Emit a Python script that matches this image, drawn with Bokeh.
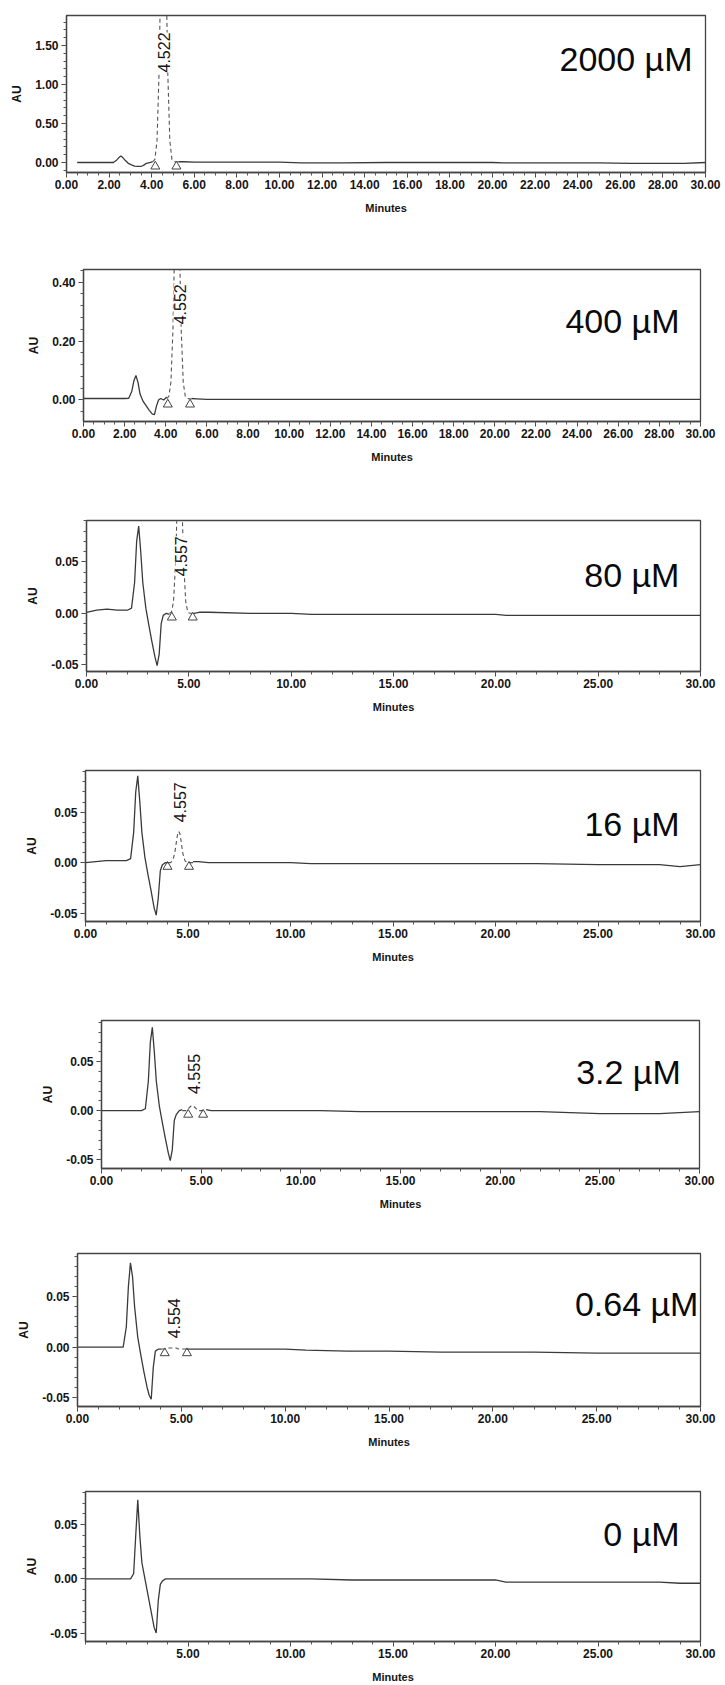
import math
from bokeh.plotting import figure
from bokeh.models import Range1d, FixedTicker, PrintfTickFormatter, Label, ColumnDataSource
from bokeh.embed import file_html
from bokeh.resources import INLINE

NaN = float("nan")

# ---------------- data ----------------
concentrations = ["2000 µM", "400 µM", "80 µM", "16 µM", "3.2 µM", "0.64 µM", "0 µM"]
retention_labels = ["4.522", "4.552", "4.557", "4.557", "4.555", "4.554", None]

minutes = [0.0, 0.5, 1.0, 1.5, 2.0, 2.2, 2.35, 2.45, 2.55, 2.65, 2.75, 2.9, 3.05, 3.2,
           3.35, 3.45, 3.55, 3.65, 3.75, 3.9, 4.05, 4.6, 5.25, 5.5, 6.0, 8.0, 10.0, 11.0,
           13.0, 15.0, 17.5, 20.0, 20.5, 22.0, 25.0, 26.5, 28.0, 29.0, 30.0]

au_2000 = [NaN, 0.0, 0.0, 0.0, 0.0, 0.0, 0.03, 0.06, 0.085, 0.06, 0.03, -0.01, -0.03, -0.045,
           -0.05, -0.05, -0.045, -0.03, -0.01, 0.0, 0.01, NaN, 0.01, 0.01, 0.005, 0.005, 0.005, -0.005,
           -0.005, 0.0, 0.0, 0.0, -0.005, -0.005, -0.005, -0.01, -0.01, -0.01, 0.0]
au_400 = [0.005, 0.005, 0.005, 0.005, 0.005, 0.006, 0.03, 0.065, 0.083, 0.06, 0.02, -0.005, -0.02, -0.035,
          -0.048, -0.05, -0.02, 0.0, 0.005, 0.0, 0.01, NaN, 0.005, 0.004, 0.002, 0.002, 0.002, 0.002,
          0.002, 0.002, 0.002, 0.002, 0.002, 0.002, 0.002, 0.002, 0.002, 0.002, 0.002]
au_80 = [0.001, 0.003, 0.004, 0.003, 0.003, 0.005, 0.03, 0.07, 0.085, 0.06, 0.03, 0.005, -0.012, -0.028,
         -0.043, -0.051, -0.04, -0.01, -0.002, 0.0, -0.001, NaN, 0.0, 0.001, 0.001, 0.0, 0.0, -0.001,
         -0.001, -0.001, -0.001, -0.001, -0.002, -0.002, -0.002, -0.002, -0.002, -0.002, -0.002]
au_16 = [0.0, 0.001, 0.002, 0.002, 0.002, 0.004, 0.03, 0.07, 0.086, 0.06, 0.03, 0.005, -0.012, -0.028,
         -0.045, -0.052, -0.035, -0.008, -0.002, 0.0, 0.0, NaN, 0.001, 0.001, 0.0, 0.0, 0.0, -0.001,
         -0.001, -0.001, -0.001, -0.001, -0.001, -0.001, -0.002, -0.002, -0.002, -0.004, -0.002]
au_3_2 = [0.0, 0.0, 0.0, 0.0, 0.0, 0.002, 0.03, 0.07, 0.085, 0.06, 0.03, 0.005, -0.012, -0.028,
          -0.043, -0.051, -0.04, -0.01, -0.004, 0.0, 0.001, NaN, 0.001, 0.0, 0.0, 0.0, 0.0, 0.0,
          -0.001, -0.001, -0.001, -0.001, -0.001, -0.001, -0.003, -0.003, -0.003, -0.002, -0.001]
au_0_64 = [0.0, 0.0, 0.0, 0.0, 0.0, 0.0, 0.02, 0.06, 0.084, 0.07, 0.04, 0.01, -0.008, -0.025,
           -0.04, -0.048, -0.052, -0.02, -0.004, -0.002, -0.002, NaN, -0.002, -0.002, -0.002, -0.002, -0.002, -0.003,
           -0.004, -0.004, -0.005, -0.005, -0.005, -0.005, -0.006, -0.006, -0.006, -0.006, -0.006]
au_0 = [0.0, 0.0, 0.0, 0.0, 0.0, 0.0, 0.005, 0.04, 0.073, 0.04, 0.015, 0.0, -0.015, -0.03,
        -0.045, -0.05, -0.02, -0.005, -0.002, 0.0, 0.0, 0.0, 0.0, 0.0, 0.0, 0.0, 0.0, 0.0,
        -0.001, -0.001, -0.001, -0.001, -0.003, -0.003, -0.003, -0.003, -0.003, -0.004, -0.004]

peak_minutes = [4.05, 4.15, 4.25, 4.35, 4.45, 4.5, 4.55, 4.6, 4.65, 4.75, 4.85, 4.95, 5.05, 5.25]
peak_2000 = [0.01, 0.04, 0.28, 1.2, 2.9, 3.6, 3.9, 3.6, 2.9, 1.2, 0.28, 0.04, 0.01, 0.01]
peak_400 = [0.005, 0.012, 0.06, 0.24, 0.585, 0.73, 0.785, 0.73, 0.585, 0.24, 0.06, 0.012, 0.005, 0.003]
peak_80 = [0.0, 0.001, 0.011, 0.048, 0.116, 0.145, 0.156, 0.145, 0.116, 0.048, 0.011, 0.001, 0.0, 0.0]
peak_16 = [0.0, 0.0, 0.002, 0.009, 0.023, 0.029, 0.031, 0.029, 0.023, 0.009, 0.002, 0.0, 0.0, 0.0]
peak_3_2 = [0.0, 0.0, 0.0, 0.002, 0.004, 0.005, 0.005, 0.005, 0.004, 0.002, 0.0, 0.0, 0.0, 0.0]
peak_0_64 = [-0.002, -0.002, -0.002, -0.001, -0.001, -0.001, -0.001, -0.001, -0.001, -0.001, -0.002, -0.002, -0.002, -0.002]

# peak start / end markers (minutes, AU)
marks_x = [[4.17, 5.16], [4.1, 5.18], [4.17, 5.19], [4.0, 5.05], [4.35, 5.1], [4.2, 5.27], []]
marks_y = [[-0.05, -0.05], [-0.015, -0.015], [-0.004, -0.004], [-0.004, -0.004],
           [-0.004, -0.004], [-0.006, -0.006], []]

# retention-time label anchor (minutes, AU at text start)
rt_x = [4.58, 4.67, 4.64, 4.59, 4.64, 4.67, None]
rt_y = [1.154, 0.257, 0.036, 0.040, 0.017, 0.0087, None]

# concentration label anchor (right edge, baseline)
conc_x = [29.39, 28.98, 28.97, 28.98, 29.06, 29.9, 28.98]
conc_y = [1.333, 0.267, 0.0375, 0.038, 0.039, 0.043, 0.041]

# axis ranges / ticks
y_lo = [-0.128, -0.073, -0.0567, -0.0583, -0.059, -0.0592, -0.0578]
y_hi = [1.885, 0.443, 0.0904, 0.0913, 0.092, 0.0932, 0.0807]
y_ticks = [[0.0, 0.5, 1.0, 1.5], [0.0, 0.2, 0.4]] + [[-0.05, 0.0, 0.05]] * 5
y_minor = [[round(-0.1 + 0.1 * i, 2) for i in range(20)],
           [round(-0.04 + 0.04 * i, 2) for i in range(13)]] + \
          [[round(-0.05 + 0.01 * i, 2) for i in range(15)]] * 5
x_ticks = [[2.0 * i for i in range(16)]] * 2 + [[0, 5, 10, 15, 20, 25, 30]] * 4 + [[5, 10, 15, 20, 25, 30]]
x_minor = [[0.5 * i for i in range(61)]] * 2 + [[float(i) for i in range(31)]] * 5

traces = [au_2000, au_400, au_80, au_16, au_3_2, au_0_64, au_0]
peaks = [peak_2000, peak_400, peak_80, peak_16, peak_3_2, peak_0_64, None]

# ---------------- layout (page px, content starts at 0) ----------------
bands = [0, 218, 465, 715, 965, 1212, 1450, 1685]
frame_T = [15, 269, 520, 770, 1020, 1253, 1491]
frame_B = [172, 424, 673, 924, 1171, 1410, 1643]
frame_L = [66, 83, 86, 85, 101, 77, 85]
frame_R = [705, 700, 700, 700, 699, 700, 700]
PAGE_W = 725

FONT = "Liberation Sans"
LINE = "#3a3a3a"
TEXT = "#151515"

figs = []
for i in range(7):
    h = bands[i + 1] - bands[i]
    p = figure(width=PAGE_W, height=h,
               x_range=Range1d(0, 30), y_range=Range1d(y_lo[i], y_hi[i]),
               output_backend="svg", toolbar_location=None,
               min_border_left=frame_L[i], min_border_right=PAGE_W - frame_R[i],
               min_border_top=frame_T[i] - bands[i], min_border_bottom=bands[i + 1] - frame_B[i])
    p.xgrid.visible = False
    p.ygrid.visible = False
    p.outline_line_color = "#444444"
    p.outline_line_width = 1.3
    p.background_fill_color = "white"
    p.border_fill_color = "white"

    for ax, ticks, minor, fmt in ((p.xaxis[0], x_ticks[i], x_minor[i], "%.2f"),
                                  (p.yaxis[0], y_ticks[i], y_minor[i], "%.2f")):
        ax.ticker = FixedTicker(ticks=ticks, minor_ticks=minor)
        ax.formatter = PrintfTickFormatter(format=fmt)
        ax.axis_line_color = "#444444"
        ax.axis_line_width = 1.3
        ax.major_tick_line_color = "#444444"
        ax.minor_tick_line_color = "#555555"
        ax.major_tick_out = 5
        ax.major_tick_in = 0
        ax.minor_tick_out = 3
        ax.minor_tick_in = 0
        ax.major_label_text_font = FONT
        ax.major_label_text_font_size = "12px"
        ax.major_label_text_font_style = "bold"
        ax.major_label_text_color = TEXT
        ax.axis_label_text_font = FONT
        ax.axis_label_text_font_style = "bold"
        ax.axis_label_text_color = TEXT

    p.xaxis[0].axis_label = "Minutes"
    p.xaxis[0].axis_label_text_font_size = "11px"
    p.xaxis[0].major_label_standoff = 2
    p.xaxis[0].axis_label_standoff = 10
    p.yaxis[0].axis_label = "AU"
    p.yaxis[0].axis_label_text_font_size = "12px"
    p.yaxis[0].major_label_standoff = 3
    p.yaxis[0].axis_label_standoff = 8

    src = ColumnDataSource(dict(t=minutes, au=traces[i]))
    p.line("t", "au", source=src, line_color=LINE, line_width=1.3)

    if peaks[i] is not None:
        psrc = ColumnDataSource(dict(t=peak_minutes, au=peaks[i]))
        p.line("t", "au", source=psrc, line_color="#555555", line_width=1.1, line_dash="4 3")

    if marks_x[i]:
        msrc = ColumnDataSource(dict(t=marks_x[i], au=marks_y[i]))
        p.scatter("t", "au", source=msrc, marker="triangle", size=9,
                  fill_color=None, line_color="#444444", line_width=1)

    if retention_labels[i] is not None:
        p.add_layout(Label(x=rt_x[i], y=rt_y[i], text=retention_labels[i], angle=math.pi / 2,
                           text_align="left", text_baseline="middle",
                           text_font=FONT, text_font_size="16px", text_color=TEXT,
                           background_fill_color="white"))

    p.add_layout(Label(x=conc_x[i], y=conc_y[i], text=concentrations[i],
                       text_align="right", text_baseline="alphabetic",
                       text_font=FONT, text_font_size="34px", text_color="#0a0a0a"))
    figs.append(p)

# each panel is its own root so that Bokeh does not align their frames
open("out.html", "w").write(file_html(figs, INLINE))
